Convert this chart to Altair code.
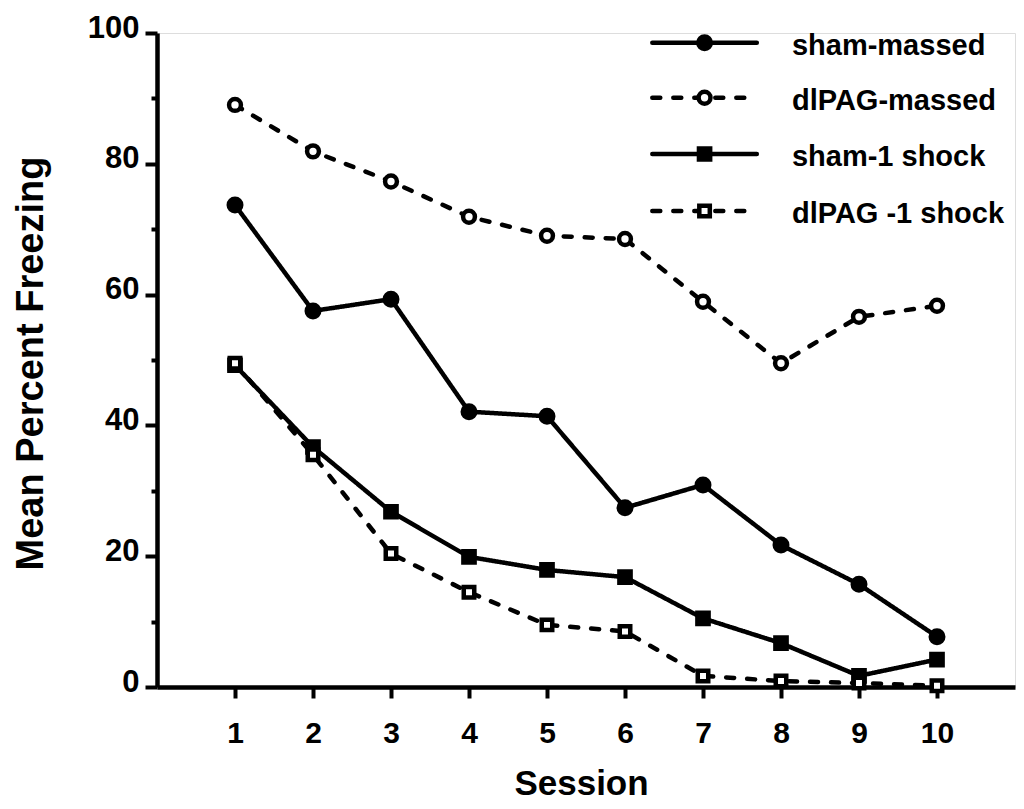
import altair as alt
import pandas as pd

# ---- data ----
sessions = [1, 2, 3, 4, 5, 6, 7, 8, 9, 10]
series_names = ["sham-massed", "dlPAG-massed", "sham-1 shock", "dlPAG -1 shock"]
sham_massed = [73.7, 57.5, 59.3, 42.1, 41.4, 27.4, 30.9, 21.7, 15.7, 7.7]
dlpag_massed = [89.0, 81.9, 77.3, 71.9, 69.0, 68.5, 58.9, 49.5, 56.6, 58.3]
sham_1shock = [49.2, 36.7, 26.8, 19.9, 17.9, 16.8, 10.5, 6.7, 1.7, 4.2]
dlpag_1shock = [49.5, 35.5, 20.4, 14.5, 9.5, 8.5, 1.7, 0.9, 0.6, 0.2]

x_ticks = [1, 2, 3, 4, 5, 6, 7, 8, 9, 10]
y_ticks = [0, 10, 20, 30, 40, 50, 60, 70, 80, 90, 100]

# legend placement (in data units of the plot)
legend_y = [98.5, 90.1, 81.5, 72.8]
legend_x0 = 6.35
legend_x1 = 7.69
legend_xm = 7.02
legend_xt = 8.14

FONT = "Liberation Sans"

rows = []
for name, vals in zip(series_names, [sham_massed, dlpag_massed, sham_1shock, dlpag_1shock]):
    for s, v in zip(sessions, vals):
        rows.append({"series": name, "session": s, "value": v})
df = pd.DataFrame(rows)

leg = pd.DataFrame({
    "series": series_names,
    "y": legend_y,
    "x0": [legend_x0] * 4,
    "x1": [legend_x1] * 4,
    "xm": [legend_xm] * 4,
    "xt": [legend_xt] * 4,
})

xscale = alt.Scale(domain=[0, 11], nice=False, zero=False)
yscale = alt.Scale(domain=[0, 100], nice=False)

dash_scale = alt.Scale(domain=series_names, range=[[1, 0], [8, 13], [1, 0], [8, 13]])
shape_scale = alt.Scale(domain=series_names, range=["circle", "circle", "square", "square"])
fill_scale = alt.Scale(domain=series_names, range=["black", "white", "black", "white"])
size_scale = alt.Scale(domain=series_names, range=[156, 110, 156, 100])

x_axis = alt.Axis(
    values=x_ticks, title="Session", grid=False,
    domainColor="black", domainWidth=4.5, tickColor="black", tickWidth=4, tickSize=11,
    labelFont=FONT, labelFontSize=30, labelFontWeight="bold", labelColor="black",
    labelBaseline="alphabetic", labelPadding=44, labelFlush=False,
    titleFont=FONT, titleFontSize=35, titleFontWeight="bold", titleColor="black",
    titleBaseline="alphabetic", titleY=107, titleX=424,
)
y_axis = alt.Axis(
    values=y_ticks, title="Mean Percent Freezing", grid=False,
    labelExpr="datum.value % 20 === 0 ? datum.label : ''",
    domainColor="black", domainWidth=4.5, tickColor="black", tickWidth=4,
    tickSize={"condition": {"test": "datum.value % 20 === 0", "value": 12}, "value": 6},
    labelFont=FONT, labelFontSize=31, labelFontWeight="bold", labelColor="black",
    labelBaseline="middle", labelOffset=-5, labelPadding=6, labelFlush=False,
    titleFont=FONT, titleFontSize=38, titleFontWeight="bold", titleColor="black",
    titleBaseline="alphabetic", titleX=-115, titleY=330, titleAngle=-90,
)

base = alt.Chart(df)

lines = base.mark_line(color="black", strokeWidth=4.5, strokeCap="round").encode(
    x=alt.X("session:Q", scale=xscale, axis=x_axis),
    y=alt.Y("value:Q", scale=yscale, axis=y_axis),
    strokeDash=alt.StrokeDash("series:N", scale=dash_scale, legend=None),
    detail="series:N",
)

points = base.mark_point(filled=True, stroke="black", strokeWidth=4.5, opacity=1).encode(
    x=alt.X("session:Q", scale=xscale, axis=x_axis),
    y=alt.Y("value:Q", scale=yscale, axis=y_axis),
    shape=alt.Shape("series:N", scale=shape_scale, legend=None),
    fill=alt.Fill("series:N", scale=fill_scale, legend=None),
    size=alt.Size("series:N", scale=size_scale, legend=None),
)

lbase = alt.Chart(leg)
leg_lines = lbase.mark_rule(color="black", strokeWidth=4.5, strokeCap="round").encode(
    x=alt.X("x0:Q", scale=xscale, axis=x_axis),
    x2="x1:Q",
    y=alt.Y("y:Q", scale=yscale, axis=y_axis),
    strokeDash=alt.StrokeDash("series:N", scale=dash_scale, legend=None),
)
leg_points = lbase.mark_point(filled=True, stroke="black", strokeWidth=4.5, opacity=1).encode(
    x=alt.X("xm:Q", scale=xscale, axis=x_axis),
    y=alt.Y("y:Q", scale=yscale, axis=y_axis),
    shape=alt.Shape("series:N", scale=shape_scale, legend=None),
    fill=alt.Fill("series:N", scale=fill_scale, legend=None),
    size=alt.Size("series:N", scale=size_scale, legend=None),
)
leg_text = lbase.mark_text(
    align="left", baseline="alphabetic", dy=12, font=FONT, fontSize=29,
    fontWeight="bold", color="black",
).encode(
    x=alt.X("xt:Q", scale=xscale, axis=x_axis),
    y=alt.Y("y:Q", scale=yscale, axis=y_axis),
    text="series:N",
)

chart = alt.layer(lines, points, leg_lines, leg_points, leg_text).properties(
    width=858, height=654,
    autosize=alt.AutoSizeParams(type="none"),
    padding={"left": 149, "top": 25, "right": 1, "bottom": 114},
).configure_view(strokeWidth=0).configure(background="white")

chart.save("out.html", embed_options={"renderer": "svg", "actions": False})
